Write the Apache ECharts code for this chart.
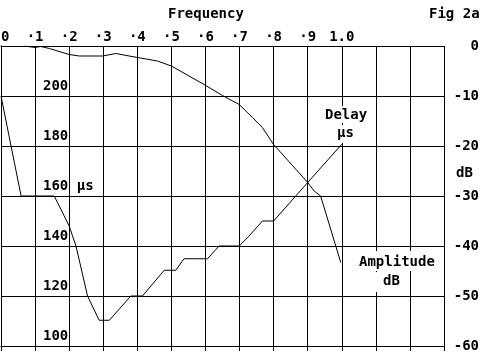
<!DOCTYPE html>
<html>
<head>
<meta charset="utf-8">
<script src="https://cdn.jsdelivr.net/npm/echarts@6/dist/echarts.min.js"></script>
<style>
html,body{margin:0;padding:0;background:#fff;}
#c{width:480px;height:363px;}
</style>
</head>
<body>
<div id="c"></div>
<script>
// Frequency tick labels (0 .. 1.0)
const freqTickLabels = ['0','·1','·2','·3','·4','·5','·6','·7','·8','·9','1.0'];

// Amplitude response (dB) vs frequency
const ampFreq = [0.068, 0.10, 0.117, 0.142, 0.20, 0.23, 0.298, 0.337, 0.376, 0.459, 0.50, 0.596, 0.65, 0.699, 0.738, 0.767, 0.80, 0.90, 0.919, 0.938, 0.997];
const ampDb   = [0.0, -0.3, -0.1, -0.5, -1.7, -2.0, -2.0, -1.5, -2.0, -3.0, -4.0, -7.7, -9.9, -11.7, -14.3, -16.3, -19.7, -27.3, -29.0, -30.0, -43.3];

// Group delay (µs) vs frequency
const delayFreq = [0.0, 0.059, 0.156, 0.171, 0.20, 0.22, 0.254, 0.288, 0.318, 0.381, 0.415, 0.479, 0.513, 0.537, 0.606, 0.640, 0.699, 0.728, 0.767, 0.80, 0.90, 1.0];
const delayUs   = [200, 160, 160, 156, 148, 140, 120, 110.3, 110.3, 120, 120, 130.3, 130.3, 134.9, 134.9, 140, 140, 144, 150, 150, 165.4, 180.7];

const FONT = 'DejaVu Sans Mono';
const txt = {color:'#000', fontFamily:FONT, fontWeight:'bold', fontSize:14};

const chart = echarts.init(document.getElementById('c'), null, {renderer:'canvas'});
const ampData = ampFreq.map((f,i)=>[f, ampDb[i]]);
const delayData = delayFreq.map((f,i)=>[f, delayUs[i]]);

chart.setOption({
  animation:false,
  backgroundColor:'#fff',
  title:[
    {text:'Frequency', left:168, top:7, padding:0, textStyle:Object.assign({}, txt)},
    {text:'Fig 2a', left:429, top:7, padding:0, textStyle:Object.assign({}, txt)}
  ],
  grid:{left:1, top:46, width:443, height:300, containLabel:false, outerBoundsMode:'none'},
  xAxis:[
    {type:'value', position:'top', min:0, max:1.3, interval:0.1,
     axisLine:{show:true, lineStyle:{color:'#000', width:1}},
     axisTick:{show:false},
     axisLabel:Object.assign({margin:2, showMaxLabel:true, showMinLabel:true, hideOverlap:false, alignMinLabel:'left',
       formatter:function(v){
        const k = Math.round(v*10);
        return k <= 10 ? freqTickLabels[k] : '';
     }}, txt),
     splitLine:{show:true, lineStyle:{color:'#000', width:1}}},
    {type:'value', position:'bottom', min:0, max:1.3, interval:0.1,
     axisLine:{show:true, lineStyle:{color:'#000', width:1}},
     axisTick:{show:true, inside:false, length:5, lineStyle:{color:'#000'}},
     axisLabel:{show:false},
     splitLine:{show:false}}
  ],
  yAxis:[
    {type:'value', position:'left', min:100, max:220, interval:20,
     axisLine:{show:true, lineStyle:{color:'#000', width:1}},
     axisTick:{show:false},
     splitLine:{show:false},
     axisLabel:Object.assign({inside:true, margin:42, verticalAlign:'bottom', padding:[0,0,3,0],
       formatter:function(v){ if(v===220) return ''; return v===160 ? '160 µs' : String(v); }}, txt)},
    {type:'value', position:'right', min:-60, max:0, interval:10,
     axisLine:{show:true, lineStyle:{color:'#000', width:1}},
     axisTick:{show:false},
     splitLine:{show:true, lineStyle:{color:'#000', width:1}},
     axisLabel:Object.assign({margin:35, align:'right'}, txt)}
  ],
  series:[
    {name:'Amplitude', type:'line', xAxisIndex:0, yAxisIndex:1, data:ampData, showSymbol:false,
     lineStyle:{color:'#000', width:1}, z:3},
    {name:'Delay', type:'line', xAxisIndex:0, yAxisIndex:0, data:delayData, showSymbol:false,
     lineStyle:{color:'#000', width:1}, z:3}
  ],
  graphic:[
    {type:'text', left:456, top:166, style:Object.assign({text:'dB'}, txt, {fill:'#000'})},
    {type:'text', left:322, top:106, z:10, style:Object.assign({text:'Delay', backgroundColor:'#fff', padding:[2,3,1,3]}, txt, {fill:'#000'})},
    {type:'text', left:334, top:125, z:10, style:Object.assign({text:'µs', backgroundColor:'#fff', padding:[1,3,3,3]}, txt, {fill:'#000'})},
    {type:'text', left:355, top:251, z:10, style:Object.assign({text:'Amplitude', backgroundColor:'#fff', padding:[4,4,2,4]}, txt, {fill:'#000'})},
    {type:'text', left:373, top:272, z:10, style:Object.assign({text:'dB', backgroundColor:'#fff', padding:[2,10,4,10]}, txt, {fill:'#000'})}
  ]
});
</script>
</body>
</html>
